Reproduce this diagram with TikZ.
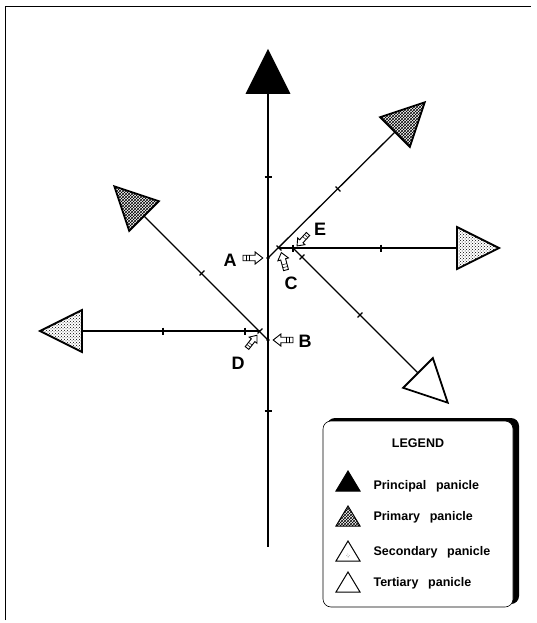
\documentclass[tikz,border=0pt]{standalone}
\usepackage{fontspec}
\setmainfont{Liberation Sans}
\usetikzlibrary{patterns}
\begin{document}
\begin{tikzpicture}[x=1pt,y=-1pt,
  branch/.style={line width=1.3pt},
  axisline/.style={line width=1.6pt},
  lbl/.style={font=\bfseries\fontsize{18}{20}\selectfont},
  legtext/.style={font=\bfseries\fontsize{12.5}{15}\selectfont, anchor=west},
  tria/.pic={\draw[line width=1.8pt,line join=miter,fill=black] (0,-21) -- (42,0) -- (0,21) -- cycle;},
  trib/.pic={\draw[line width=1.8pt,line join=miter,pattern=crosshatch] (0,-21) -- (42,0) -- (0,21) -- cycle;},
  tric/.pic={\draw[line width=1.8pt,line join=miter,pattern=crosshatch dots] (0,-21) -- (42,0) -- (0,21) -- cycle;},
  trid/.pic={\draw[line width=1.8pt,line join=miter,fill=white] (0,-21) -- (42,0) -- (0,21) -- cycle;},
  tk/.pic={\draw[line width=1.2pt] (0,-3.5) -- (0,3.5);},
  hollow/.pic={\draw[line width=0.9pt,fill=white,line join=miter] (0,-2.5) -- (11,-2.5) -- (11,-5.5) -- (18,0) -- (11,5.5) -- (11,2.5) -- (0,2.5) -- cycle;
               \draw[line width=0.5pt] (3,-2.5) -- (3,2.5) (6,-2.5) -- (6,2.5);},
  stria/.pic={\draw[line width=1pt,line join=miter,fill=black] (-12,9) -- (0,-11) -- (12,9) -- cycle;},
  strib/.pic={\draw[line width=1pt,line join=miter,pattern=crosshatch] (-12,9) -- (0,-11) -- (12,9) -- cycle;},
  stric/.pic={\draw[line width=1pt,line join=miter,fill=white] (-12,9) -- (0,-11) -- (12,9) -- cycle;
              \fill[pattern=crosshatch dots] (-2,5) -- (0,1) -- (2,5) -- cycle;},
  strid/.pic={\draw[line width=1pt,line join=miter,fill=white] (-12,9) -- (0,-11) -- (12,9) -- cycle;},
]
\useasboundingbox (0,0) rectangle (536,623);
\fill[white] (0,0) rectangle (536,623);
% frame
\draw[line width=1pt] (5,620) -- (5,7) -- (531,7);

% key points
\coordinate (top) at (268,93);
\coordinate (bot) at (268,547);
\coordinate (A) at (268,258);
\coordinate (B) at (268,340);
\coordinate (P1) at (279,248);
\coordinate (P2) at (293,248);
\coordinate (D) at (260,331);
\coordinate (urt) at (395,132);
\coordinate (rt) at (457,248);
\coordinate (lrt) at (418,373);
\coordinate (ult) at (144,216);
\coordinate (lft) at (82,331);

% axis and branches
\draw[axisline] (top) -- (bot);
\draw[branch] (A) -- (urt);
\draw[branch] (P1) -- (rt);
\draw[branch] (P2) -- (lrt);
\draw[branch] (B) -- (ult);
\draw[branch] (D) -- (lft);
\fill (A) circle (1.8);
\fill (B) circle (1.8);

% ticks
\pic[rotate=90] at (268,177) {tk};
\pic[rotate=90] at (268,411) {tk};
\pic[rotate=45] at (P1) {tk};
\pic[rotate=45] at (338,189) {tk};
\pic at (P2) {tk};
\pic at (381,248) {tk};
\pic[rotate=-45] at (302,257) {tk};
\pic[rotate=-45] at (360,315) {tk};
\pic[rotate=135] at (D) {tk};
\pic[rotate=135] at (202,273) {tk};
\pic at (245,331) {tk};
\pic at (163,331) {tk};

% panicles
\pic[rotate=90] at (top) {tria};
\pic[rotate=45] at (urt) {trib};
\pic[rotate=135] at (ult) {trib};
\pic at (rt) {tric};
\pic[rotate=180] at (lft) {tric};
\pic[rotate=-45] at (lrt) {trid};

% hollow pointer arrows
\pic[scale=1.1] at (243,258) {hollow};
\pic[scale=1.1,rotate=180] at (293,340) {hollow};
\pic[rotate=105] at (286,270) {hollow};
\pic[scale=0.9,rotate=227.5] at (308,234) {hollow};
\pic[scale=0.9,rotate=52] at (247,348) {hollow};

% labels
\node[lbl] (la) at (230,260) {A};
\node[lbl] (lb) at (305,341) {B};
\node[lbl] (lc) at (291,283) {C};
\node[lbl] (ld) at (238,363) {D};
\node[lbl] (le) at (320,229) {E};

% legend
\fill[black, rounded corners=8pt] (327,418) rectangle (519,604);
\draw[fill=white, line width=0.6pt, rounded corners=8pt] (323,421) rectangle (513,607);
\node[font=\bfseries\fontsize{12.5}{15}\selectfont] (leg) at (418,443) {LEGEND};
\pic at (348,482) {stria};
\pic at (348,517) {strib};
\pic at (348,552) {stric};
\pic at (348,583) {strid};
\node[legtext] (l1) at (370,486) {Principal \enspace panicle};
\node[legtext] (l2) at (370,517) {Primary \enspace panicle};
\node[legtext] (l3) at (370,552) {Secondary \enspace panicle};
\node[legtext] (l4) at (370,583) {Tertiary \enspace panicle};
\end{tikzpicture}
\end{document}
